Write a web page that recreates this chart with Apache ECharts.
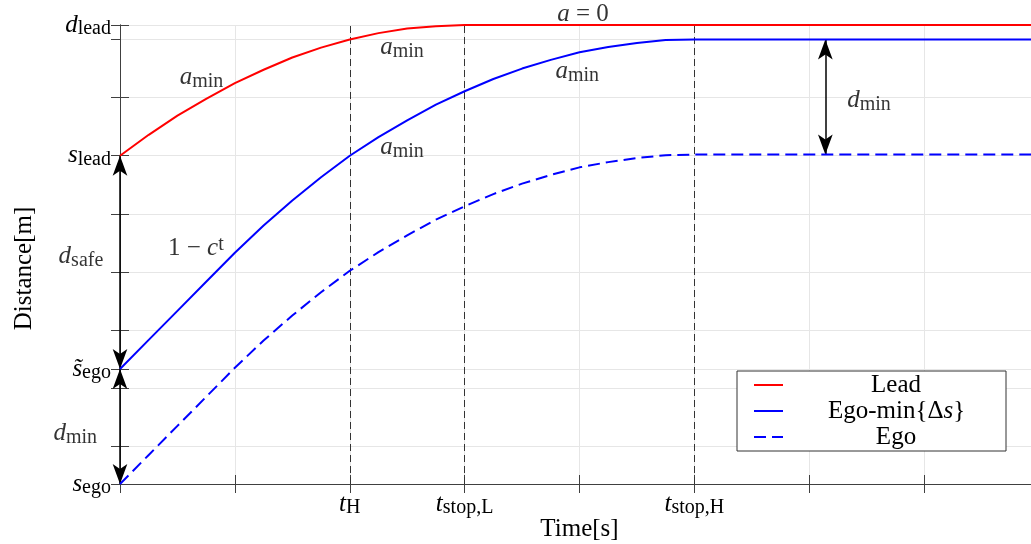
<!DOCTYPE html>
<html>
<head>
<meta charset="utf-8">
<script src="https://cdn.jsdelivr.net/npm/echarts@6/dist/echarts.min.js"></script>
<style>
  html, body { margin: 0; padding: 0; background: #fff; }
  #chart { width: 1031px; height: 544px; }
</style>
</head>
<body>
<div id="chart"></div>
<script>
// time samples (x) and the three distance curves
const timeVals = [0, 0.25, 0.5, 0.75, 1, 1.25, 1.5, 1.75, 2, 2.25, 2.5, 2.75, 3, 3.25, 3.5, 3.75, 4,
  4.25, 4.5, 4.75, 5, 5.25, 5.5, 5.75, 6, 6.25, 6.5, 6.75, 7, 7.25, 7.5, 7.75, 8];
const leadVals = [5.65, 6.01, 6.34, 6.63, 6.90, 7.13, 7.34, 7.51, 7.65, 7.76, 7.84, 7.88, 7.90,
  7.90, 7.90, 7.90, 7.90, 7.90, 7.90, 7.90, 7.90, 7.90, 7.90, 7.90, 7.90, 7.90, 7.90, 7.90, 7.90, 7.90, 7.90, 7.90, 7.90];
const egoMinVals = [1.98, 2.48, 2.98, 3.48, 3.98, 4.45, 4.88, 5.28, 5.65, 5.97, 6.26, 6.53, 6.76, 6.97, 7.15, 7.30, 7.43,
  7.52, 7.59, 7.64, 7.65, 7.65, 7.65, 7.65, 7.65, 7.65, 7.65, 7.65, 7.65, 7.65, 7.65, 7.65, 7.65];
const egoVals = [0, 0.50, 1.00, 1.50, 2.00, 2.47, 2.90, 3.30, 3.67, 3.99, 4.28, 4.55, 4.78, 4.99, 5.17, 5.32, 5.45,
  5.54, 5.61, 5.66, 5.67, 5.67, 5.67, 5.67, 5.67, 5.67, 5.67, 5.67, 5.67, 5.67, 5.67, 5.67, 5.67];

// axis ticks
const yTickVals = [0, 0.65, 1.65, 1.98, 2.65, 3.65, 4.65, 5.65, 6.65, 7.65, 7.9];
const yLabelVals = [0, 1.98, 5.65, 7.65, 7.9];
const yLabelText = ['{m|s}{s|ego}', '{m|s\u0303}{s|ego}', '{m|s}{s|lead}', '{m|d}{s|ego}', '{m|d}{s|lead}'];
const xLabelVals = [2, 3, 5];
const xLabelText = ['{m|t}{s|H}', '{m|t}{s|stop,L}', '{m|t}{s|stop,H}'];

// vertical dashed markers and double arrows [x1, y1, x2, y2]
const markTimes = [2, 3, 5];
const arrowSegs = [[0, 5.65, 0, 1.98], [0, 1.98, 0, 0], [6.14, 7.65, 6.14, 5.67]];

// text annotations
const annoT = [0.71, 2.455, 3.98, 2.455, 0.66, 4.03, 6.52, -0.34, -0.39];
const annoY = [6.99, 7.51, 7.10, 5.79, 4.05, 8.08, 6.60, 3.91, 0.87];
const annoText = ['{m|a}{s|min}', '{m|a}{s|min}', '{m|a}{s|min}', '{m|a}{s|min}',
  '{r|1 \u2212 }{m|c}{sup|t}', '{m|a}{r| = 0}', '{m|d}{s|min}', '{m|d}{s|safe}', '{m|d}{s|min}'];

const legendNames = ['Lead', 'Ego-min{\u0394s}', 'Ego'];
const legendText = {
  'Lead': '{c|Lead}',
  'Ego-min{\u0394s}': '{sp|}{r|Ego-min{\u0394}{m|s}}',
  'Ego': '{c|Ego}'
};

const FONT = "'Liberation Serif', 'DejaVu Serif', serif";
const AX = '#404040';
const rich = {
  m: { fontFamily: FONT, fontStyle: 'italic', fontSize: 25, color: '#000', lineHeight: 28, verticalAlign: 'middle' },
  r: { fontFamily: FONT, fontSize: 25, color: '#000', lineHeight: 28, verticalAlign: 'middle' },
  s: { fontFamily: FONT, fontSize: 20, color: '#000', lineHeight: 16, verticalAlign: 'bottom' },
  sup: { fontFamily: FONT, fontSize: 20, color: '#000', lineHeight: 10, verticalAlign: 'top' }
};

function pick(vals, texts, v) {
  for (let i = 0; i < vals.length; i++) {
    if (Math.abs(vals[i] - v) < 1e-6) return texts[i];
  }
  return '';
}

const chart = echarts.init(document.getElementById('chart'));

const option = {
  animation: false,
  backgroundColor: '#fff',
  grid: { left: 120, right: -8, top: 25, bottom: 60, outerBoundsMode: 'none', containLabel: false },
  legend: {
    left: 737, top: 371,
    orient: 'vertical',
    data: legendNames,
    selectedMode: false,
    itemWidth: 29, itemHeight: 14, itemGap: 0,
    padding: [1, 2, 1, 16],
    borderColor: '#333', borderWidth: 1, borderRadius: 0,
    backgroundColor: '#fff',
    itemStyle: { opacity: 0 },
    formatter: name => legendText[name],
    textStyle: {
      fontFamily: FONT, fontSize: 25, color: '#000', width: 216, lineHeight: 26,
      rich: {
        c: { fontFamily: FONT, fontSize: 25, color: '#000', lineHeight: 26, align: 'center' },
        r: { fontFamily: FONT, fontSize: 25, color: '#000', lineHeight: 26 },
        m: { fontFamily: FONT, fontSize: 25, color: '#000', lineHeight: 26, fontStyle: 'italic' },
        sp: { width: 40, lineHeight: 26 }
      }
    }
  },
  xAxis: [{
    type: 'value', min: 0, max: 8, interval: 1, position: 'bottom',
    axisLine: { lineStyle: { color: AX, width: 1 } },
    axisTick: { inside: true, length: 9, lineStyle: { color: AX } },
    axisLabel: { margin: 6, formatter: v => pick(xLabelVals, xLabelText, v), rich: rich },
    splitLine: { show: true, lineStyle: { color: '#e6e6e6', width: 1 } },
    name: 'Time[s]', nameLocation: 'middle', nameGap: 33, nameMoveOverlap: false,
    nameTextStyle: { fontFamily: FONT, fontSize: 25, color: '#000' }
  }, {
    type: 'value', min: 0, max: 8, interval: 1, position: 'top',
    axisLine: { lineStyle: { color: AX, width: 1 } },
    axisTick: { inside: true, length: 9, lineStyle: { color: AX } },
    axisLabel: { show: false },
    splitLine: { show: false }
  }],
  yAxis: [{
    type: 'value', min: 0, max: 7.9, position: 'left',
    axisLine: { lineStyle: { color: AX, width: 1 } },
    axisTick: { inside: true, length: 9, lineStyle: { color: AX }, customValues: yTickVals },
    axisLabel: {
      margin: 9, customValues: yLabelVals, hideOverlap: false, showMinLabel: true, showMaxLabel: true,
      formatter: v => pick(yLabelVals, yLabelText, v), rich: rich
    },
    splitLine: { show: true, lineStyle: { color: '#e6e6e6', width: 1 } },
    name: 'Distance[m]', nameLocation: 'middle', nameGap: 83, nameRotate: 90, nameMoveOverlap: false,
    nameTextStyle: { fontFamily: FONT, fontSize: 25, color: '#000', padding: [0, 28, 0, 0] }
  }, {
    type: 'value', min: 0, max: 7.9, position: 'right',
    axisLine: { lineStyle: { color: AX, width: 1 } },
    axisTick: { inside: true, length: 9, lineStyle: { color: AX }, customValues: yTickVals },
    axisLabel: { show: false },
    splitLine: { show: false }
  }],
  series: [
    {
      name: 'markers', type: 'line', data: [], silent: true, clip: false,
      markLine: {
        silent: true, symbol: 'none', label: { show: false },
        lineStyle: { color: '#333', width: 1, type: [7, 4] },
        data: markTimes.map(t => ({ xAxis: t }))
      }
    },
    {
      name: 'Lead', type: 'line', showSymbol: false, symbol: 'none', clip: false,
      data: timeVals.map((t, i) => [t, leadVals[i]]),
      lineStyle: { color: '#ff0000', width: 2 }, itemStyle: { color: '#ff0000' }, z: 5
    },
    {
      name: 'Ego-min{\u0394s}', type: 'line', showSymbol: false, symbol: 'none', clip: false,
      data: timeVals.map((t, i) => [t, egoMinVals[i]]),
      lineStyle: { color: '#0000ff', width: 2 }, itemStyle: { color: '#0000ff' }, z: 5
    },
    {
      name: 'Ego', type: 'line', showSymbol: false, symbol: 'none', clip: false,
      data: timeVals.map((t, i) => [t, egoVals[i]]),
      lineStyle: { color: '#0000ff', width: 2, type: [12, 6] }, itemStyle: { color: '#0000ff' }, z: 5
    },
    {
      name: 'arrows', type: 'line', data: [], silent: true, clip: false, z: 6,
      markLine: {
        silent: true, symbol: ['arrow', 'arrow'], symbolSize: [11, 20],
        label: { show: false },
        lineStyle: { color: '#000', width: 1.5, type: 'solid' },
        data: arrowSegs.map(s => [{ coord: [s[0], s[1]] }, { coord: [s[2], s[3]] }])
      }
    },
    {
      name: 'notes', type: 'scatter', symbolSize: 0, silent: true, clip: false, z: 7,
      data: annoT.map((t, i) => ({ name: annoText[i], value: [t, annoY[i]] })),
      label: { show: true, position: 'inside', formatter: p => p.name, rich: rich }
    }
  ]
};

chart.setOption(option);
</script>
</body>
</html>
